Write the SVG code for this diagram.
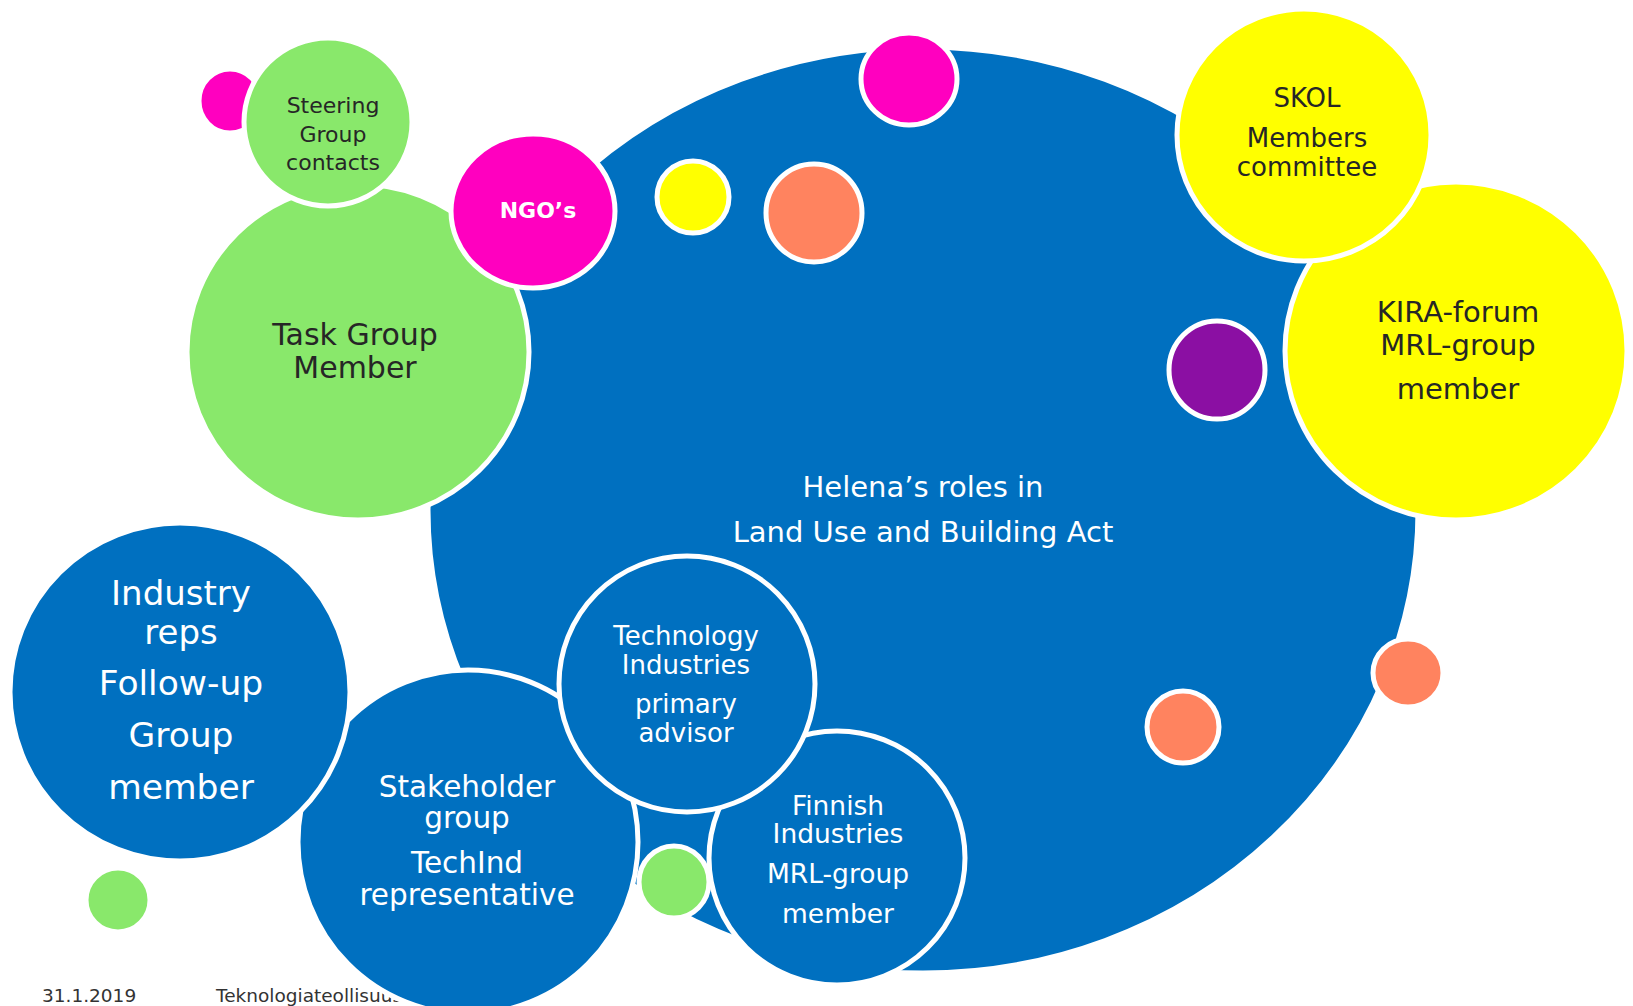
<svg xmlns="http://www.w3.org/2000/svg" width="1633" height="1006" viewBox="0 0 1633 1006">
<style>
.b{fill:#0070C0;stroke:#fff;stroke-width:5}
.g{fill:#89E86B;stroke:#fff;stroke-width:5}
.m{fill:#FF00BF;stroke:#fff;stroke-width:5}
.y{fill:#FFFF00;stroke:#fff;stroke-width:5}
.o{fill:#FF835F;stroke:#fff;stroke-width:5}
.p{fill:#8B0FA3;stroke:#fff;stroke-width:5}
text{font-family:"DejaVu Sans","Liberation Sans",sans-serif;text-anchor:middle}
.w{fill:#fff}
.d{fill:#262626}
.f{fill:#333;text-anchor:start;font-size:18.5px}
</style>
<rect width="1633" height="1006" fill="#fff"/>
<g id="footer">
<text class="f" x="42" y="1002">31.1.2019</text>
<text class="f" x="216" y="1002">Teknologiateollisuus</text>
</g>
<g id="main">
<ellipse class="b" cx="923" cy="510" rx="495" ry="463"/>
<text class="w" x="923" y="497" font-size="29">Helena’s roles in</text>
<text class="w" x="923" y="542" font-size="29">Land Use and Building Act</text>
</g>
<g id="dot-coral-edge"><ellipse class="o" cx="1408" cy="673" rx="35" ry="34"/></g>
<g id="dot-magenta-left"><ellipse class="m" cx="230" cy="101" rx="31" ry="32"/></g>
<g id="task-group">
<ellipse class="g" cx="358" cy="352" rx="171" ry="168"/>
<text class="d" x="355" y="345" font-size="30">Task Group</text>
<text class="d" x="355" y="378" font-size="30">Member</text>
</g>
<g id="steering">
<ellipse class="g" cx="328" cy="122" rx="84" ry="84"/>
<text class="d" x="333" y="113" font-size="22">Steering</text>
<text class="d" x="333" y="142" font-size="22">Group</text>
<text class="d" x="333" y="170" font-size="22">contacts</text>
</g>
<g id="ngos">
<ellipse class="m" cx="533" cy="211" rx="82" ry="77"/>
<text class="w" x="538" y="218" font-size="22" font-weight="bold">NGO’s</text>
</g>
<g id="dot-magenta-top"><ellipse class="m" cx="909" cy="79" rx="48" ry="46"/></g>
<g id="dot-yellow"><ellipse class="y" cx="693" cy="197" rx="36" ry="36"/></g>
<g id="dot-coral-top"><ellipse class="o" cx="814" cy="213" rx="48" ry="49"/></g>
<g id="dot-purple"><ellipse class="p" cx="1217" cy="370" rx="48" ry="49"/></g>
<g id="dot-coral-low"><ellipse class="o" cx="1183" cy="727" rx="36" ry="36"/></g>
<g id="kira">
<ellipse class="y" cx="1456" cy="351" rx="171" ry="169"/>
<text class="d" x="1458" y="322" font-size="29">KIRA-forum</text>
<text class="d" x="1458" y="355" font-size="29">MRL-group</text>
<text class="d" x="1458" y="399" font-size="29">member</text>
</g>
<g id="skol">
<ellipse class="y" cx="1304" cy="135" rx="127" ry="126"/>
<text class="d" x="1307" y="107" font-size="26">SKOL</text>
<text class="d" x="1307" y="147" font-size="26">Members</text>
<text class="d" x="1307" y="176" font-size="26">committee</text>
</g>
<g id="stakeholder">
<ellipse class="b" cx="468" cy="842" rx="170" ry="172"/>
<text class="w" x="467" y="797" font-size="29.5">Stakeholder</text>
<text class="w" x="467" y="828" font-size="29.5">group</text>
<text class="w" x="467" y="873" font-size="29.5">TechInd</text>
<text class="w" x="467" y="905" font-size="29.5">representative</text>
</g>
<g id="industry-reps">
<ellipse class="b" cx="180" cy="692" rx="170" ry="169"/>
<text class="w" x="181" y="605" font-size="34">Industry</text>
<text class="w" x="181" y="644" font-size="34">reps</text>
<text class="w" x="181" y="695" font-size="34.5">Follow-up</text>
<text class="w" x="181" y="747" font-size="34.5">Group</text>
<text class="w" x="181" y="799" font-size="34.5">member</text>
</g>
<g id="finnish">
<ellipse class="b" cx="837" cy="858" rx="128" ry="127"/>
<text class="w" x="838" y="815" font-size="26.5">Finnish</text>
<text class="w" x="838" y="843" font-size="26.5">Industries</text>
<text class="w" x="838" y="883" font-size="26.5">MRL-group</text>
<text class="w" x="838" y="923" font-size="26.5">member</text>
</g>
<g id="technology">
<ellipse class="b" cx="687" cy="684" rx="128" ry="128"/>
<text class="w" x="686" y="645" font-size="26">Technology</text>
<text class="w" x="686" y="674" font-size="26">Industries</text>
<text class="w" x="686" y="713" font-size="26">primary</text>
<text class="w" x="686" y="742" font-size="26">advisor</text>
</g>
<g id="dot-green-mid"><ellipse class="g" cx="674" cy="882" rx="35" ry="36"/></g>
<g id="dot-green-left"><ellipse class="g" cx="118" cy="900" rx="32" ry="32"/></g>
<g id="connectors"></g>
</svg>
